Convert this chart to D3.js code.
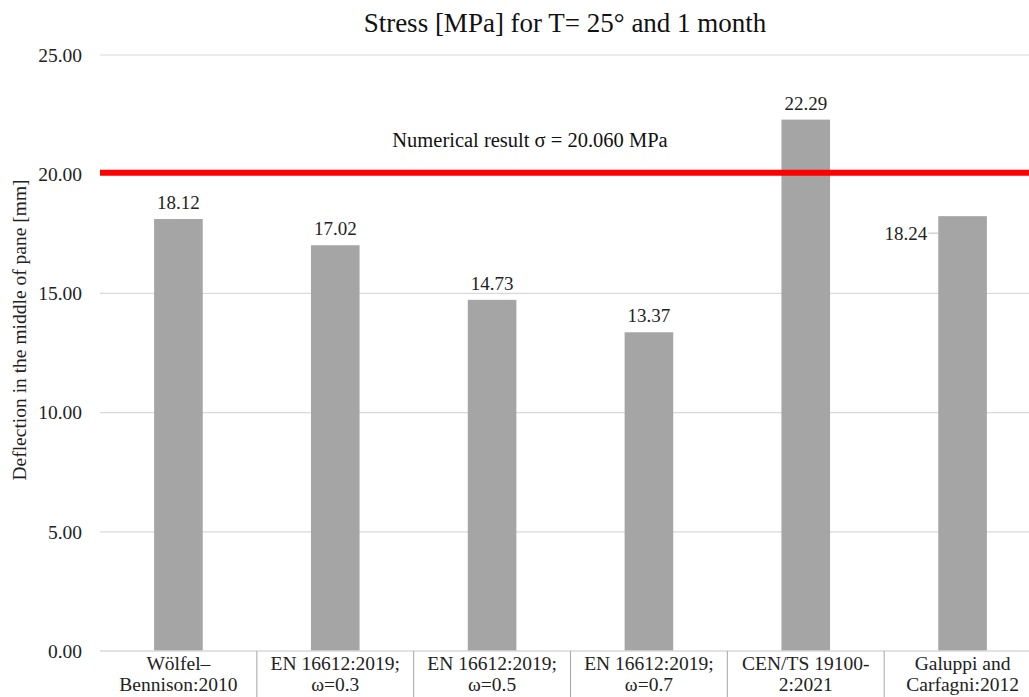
<!DOCTYPE html>
<html>
<head>
<meta charset="utf-8">
<script src="https://cdn.jsdelivr.net/npm/d3@7/dist/d3.min.js"></script>
<style>
  html, body { margin: 0; padding: 0; background: #fff; }
  svg text { font-family: "Liberation Serif", "Times New Roman", Times, "DejaVu Serif", serif; }
</style>
</head>
<body>
<svg id="chart" width="1029" height="697"></svg>
<script>
// Category labels (two lines each)
const categories = [
  ["Wölfel–", "Bennison:2010"],
  ["EN 16612:2019;", "ω=0.3"],
  ["EN 16612:2019;", "ω=0.5"],
  ["EN 16612:2019;", "ω=0.7"],
  ["CEN/TS 19100-", "2:2021"],
  ["Galuppi and", "Carfagni:2012"]
];
const values = [18.12, 17.02, 14.73, 13.37, 22.29, 18.24];
const yTicks = [0, 5, 10, 15, 20, 25];
const referenceValue = 20.06;
const referenceLabel = "Numerical result σ = 20.060 MPa";
const titleText = "Stress [MPa] for T= 25° and 1 month";
const yTitle = "Deflection in the middle of pane [mm]";

const serif = "'Liberation Serif', 'Times New Roman', Times, 'DejaVu Serif', serif";
const svg = d3.select("#chart").attr("font-family", serif);
const plotLeft = 100, plotRight = 1041, plotTop = 55, plotBottom = 651;

const x = d3.scaleBand()
  .domain(d3.range(categories.length))
  .range([plotLeft, plotRight])
  .paddingInner(0)
  .paddingOuter(0);

const y = d3.scaleLinear().domain([0, 25]).range([plotBottom, plotTop]);

const barW = x.bandwidth() * 0.31;

// Horizontal gridlines
svg.append("g").selectAll("line")
  .data(yTicks.filter(d => d > 0))
  .join("line")
  .attr("x1", plotLeft).attr("x2", 1029)
  .attr("y1", d => y(d)).attr("y2", d => y(d))
  .attr("stroke", "#d9d9d9").attr("stroke-width", 1.2);

// Y tick labels
svg.append("g").selectAll("text")
  .data(yTicks)
  .join("text")
  .attr("x", 82).attr("y", d => y(d))
  .attr("dy", "0.35em")
  .attr("text-anchor", "end")
  .attr("font-size", 19.5)
  .attr("fill", "#222")
  .text(d => d3.format(".2f")(d));

// Bars
svg.append("g").selectAll("rect")
  .data(values)
  .join("rect")
  .attr("x", (d, i) => x(i) + x.bandwidth() / 2 - barW / 2)
  .attr("width", barW)
  .attr("y", d => y(d))
  .attr("height", d => y(0) - y(d))
  .attr("fill", "#a5a5a5");

// Value labels above bars (last one sits to the left with a leader)
const labels = svg.append("g");
values.forEach((v, i) => {
  const cx = x(i) + x.bandwidth() / 2;
  if (i === values.length - 1) {
    labels.append("line")
      .attr("x1", cx - barW / 2 - 10).attr("x2", cx - barW / 2)
      .attr("y1", y(v) + 17).attr("y2", y(v) + 17)
      .attr("stroke", "#bfbfbf").attr("stroke-width", 1);
    labels.append("text")
      .attr("x", cx - barW / 2 - 11).attr("y", y(v) + 17)
      .attr("dy", "0.35em")
      .attr("text-anchor", "end")
      .attr("font-size", 19)
      .attr("fill", "#222")
      .text(d3.format(".2f")(v));
  } else {
    labels.append("text")
      .attr("x", cx).attr("y", y(v) - 10)
      .attr("text-anchor", "middle")
      .attr("font-size", 19)
      .attr("fill", "#222")
      .text(d3.format(".2f")(v));
  }
});

// Reference line
svg.append("line")
  .attr("x1", plotLeft).attr("x2", 1029)
  .attr("y1", y(referenceValue)).attr("y2", y(referenceValue))
  .attr("stroke", "#ff0000").attr("stroke-width", 6);

svg.append("text")
  .attr("x", 530).attr("y", 147)
  .attr("text-anchor", "middle")
  .attr("font-size", 20.5)
  .attr("fill", "#111")
  .text(referenceLabel);

// X axis baseline and category separators
svg.append("line")
  .attr("x1", plotLeft).attr("x2", 1029)
  .attr("y1", y(0)).attr("y2", y(0))
  .attr("stroke", "#d9d9d9").attr("stroke-width", 1.5);

svg.append("g").selectAll("line")
  .data(d3.range(1, categories.length))
  .join("line")
  .attr("x1", i => x(i)).attr("x2", i => x(i))
  .attr("y1", y(0)).attr("y2", 697)
  .attr("stroke", "#a6a6a6").attr("stroke-width", 1);

const catG = svg.append("g").selectAll("text")
  .data(categories)
  .join("text")
  .attr("x", (d, i) => x(i) + x.bandwidth() / 2)
  .attr("y", 670)
  .attr("text-anchor", "middle")
  .attr("font-size", 19.5)
  .attr("fill", "#222");
catG.each(function(d) {
  const t = d3.select(this);
  t.append("tspan").attr("x", t.attr("x")).attr("dy", 0).text(d[0]);
  t.append("tspan").attr("x", t.attr("x")).attr("dy", 21).text(d[1]);
});

// Y axis title
svg.append("text")
  .attr("transform", "translate(26,330) rotate(-90)")
  .attr("text-anchor", "middle")
  .attr("font-size", 19.5)
  .attr("fill", "#222")
  .text(yTitle);

// Title
svg.append("text")
  .attr("x", 565).attr("y", 32)
  .attr("text-anchor", "middle")
  .attr("font-size", 27)
  .attr("fill", "#111")
  .text(titleText);
</script>
</body>
</html>
